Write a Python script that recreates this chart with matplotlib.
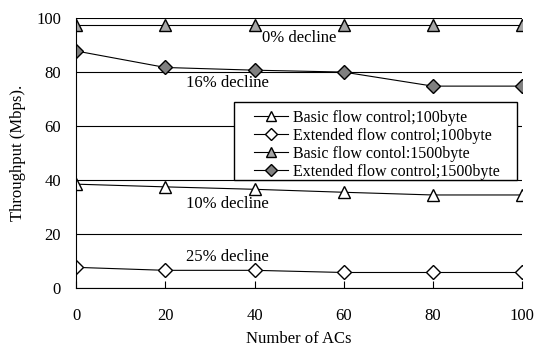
import matplotlib
matplotlib.use("Agg")
import matplotlib.pyplot as plt
from matplotlib.patches import Rectangle

acs = [0, 20, 40, 60, 80, 100]
basic_100 = [38.5, 37.5, 36.6, 35.5, 34.5, 34.5]
ext_100 = [7.7, 6.6, 6.6, 5.8, 5.8, 5.8]
basic_1500 = [97.5, 97.5, 97.5, 97.5, 97.5, 97.5]
ext_1500 = [87.8, 81.7, 80.7, 80.0, 74.8, 74.8]

notes = [("0% decline", 50, 92.5), ("16% decline", 34, 76),
         ("10% decline", 34, 31), ("25% decline", 34, 11.5)]

plt.rcParams['font.family'] = ['Liberation Serif', 'DejaVu Serif']

fig, ax = plt.subplots(figsize=(5.37, 3.54), dpi=100)
fig.subplots_adjust(left=0.142, right=0.972, top=0.949, bottom=0.186)

ax.plot(acs, basic_100, '-^', color='black', lw=0.8, mfc='white', mec='black', ms=9,
        label='Basic flow control;100byte')
ax.plot(acs, ext_100, '-D', color='black', lw=0.8, mfc='white', mec='black', ms=7,
        label='Extended flow control;100byte')
ax.plot(acs, basic_1500, '-^', color='black', lw=0.8, mfc='#a6a6a6', mec='black', ms=9,
        label='Basic flow contol:1500byte')
ax.plot(acs, ext_1500, '-D', color='black', lw=0.8, mfc='#808080', mec='black', ms=7,
        label='Extended flow control;1500byte')

for txt, x, y in notes:
    ax.text(x, y, txt, ha='center', va='center', fontsize=12)

ax.set_xlim(0, 100)
ax.set_ylim(0, 100)
ax.set_xticks(acs)
ax.set_yticks([0, 20, 40, 60, 80, 100])
ax.yaxis.grid(True, color='black', lw=0.8)
ax.set_axisbelow(True)
for s in ['top', 'right']:
    ax.spines[s].set_visible(False)
ax.tick_params(axis='x', direction='in', length=5, pad=14, labelsize=12)
ax.tick_params(axis='y', direction='out', length=0, pad=11, labelsize=12)
ax.set_xlabel('Number of ACs', fontsize=12, labelpad=5)
ax.set_ylabel('Throughput (Mbps).', fontsize=12, labelpad=7)

# legend box is wider than the entries, so draw the frame separately
ax.add_patch(Rectangle((0.354, 0.40), 0.635, 0.289, transform=ax.transAxes,
                       facecolor='white', edgecolor='black', lw=1.0, zorder=4))
leg = ax.legend(loc='upper left', bbox_to_anchor=(0.399, 0.66), fontsize=11.5,
                frameon=False, borderpad=0, labelspacing=0.12, markerscale=0.85,
                handlelength=2.1, handletextpad=0.35, borderaxespad=0)
leg.set_zorder(5)

fig.savefig('out.png', dpi=100)
